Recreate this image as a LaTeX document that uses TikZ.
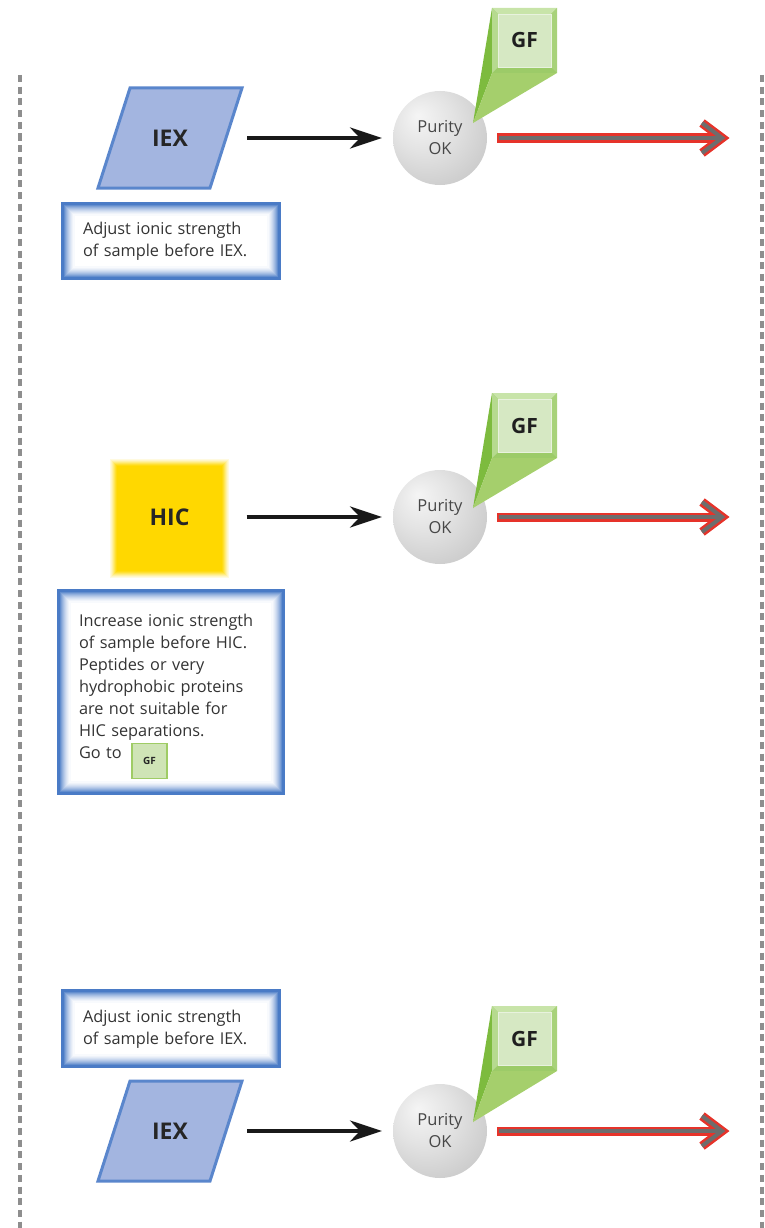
\documentclass[tikz,border=0pt]{standalone}
\usepackage{fontspec}
\setmainfont{Open Sans}
\usetikzlibrary{calc,arrows.meta}

\definecolor{boxblue}{HTML}{4A7BC6}
\definecolor{iexfill}{HTML}{A3B5E0}
\definecolor{iexline}{HTML}{5A86CC}
\definecolor{hicyellow}{HTML}{FFD800}
\definecolor{gfdark}{HTML}{7DBB3E}
\definecolor{gflight}{HTML}{A5CF6C}
\definecolor{gfinner}{HTML}{D6E8C3}
\definecolor{gftop}{HTML}{C8E4A9}
\definecolor{gfleft}{HTML}{B6DA8F}
\definecolor{gfright}{HTML}{A8D27A}
\definecolor{gfbot}{HTML}{9CCB68}
\definecolor{outred}{HTML}{E6332A}
\definecolor{outgray}{HTML}{6D6D6D}
\definecolor{dashgray}{HTML}{8E8E8E}
\definecolor{notetext}{HTML}{333333}

\pgfdeclareradialshading{purityball}{\pgfpoint{-12bp}{12bp}}{%
  color(0bp)=(white!92!gray); color(16bp)=(gray!22); color(38bp)=(gray!45); color(62bp)=(gray!78)}

\newcommand{\glowframe}[2]{%
  \foreach \i/\c in {0/100,1/100,2/100,3/86,4/72,5/60,6/49,7/39,8/30,9/22,10/15,11/9,12/4}
    \draw[boxblue!\c, line width=1.1pt] ($#1+(\i,\i)$) rectangle ($#2-(\i,\i)$);
}

\newcommand{\iexshape}[1]{%
  \draw[fill=iexfill, draw=iexline, line width=3pt, line join=miter]
    ($(#1)+(-72,50)$) -- ($(#1)+(-40,-50)$) -- ($(#1)+(72,-50)$) -- ($(#1)+(40,50)$) -- cycle;
}

\newcommand{\gfcallout}[3]{%
  \fill[gfdark] (473,#1) -- (492,#2-32.5) -- (492,#2+32.5) -- cycle;
  \fill[gflight] (473,#1) -- (492,#2+32.5) -- (557,#2+32.5) -- cycle;
  \fill[gfbot] (492,#2-32.5) rectangle (557,#2+32.5);
  \fill[gftop] (492,#2-32.5) -- (557,#2-32.5) -- (551,#2-26.5) -- (498,#2-26.5) -- cycle;
  \fill[gfleft] (492,#2-32.5) -- (498,#2-26.5) -- (498,#2+26.5) -- (492,#2+32.5) -- cycle;
  \fill[gfright] (557,#2-32.5) -- (557,#2+32.5) -- (551,#2+26.5) -- (551,#2-26.5) -- cycle;
  \node[gfbox] (#3) at (524.5,#2) {GF};
}

\tikzset{
  ball/.style={circle, minimum size=94pt, inner sep=0pt, shading=purityball,
    align=center, text=black!72, font=\fontsize{16.5}{22}\selectfont},
  gfbox/.style={rectangle, minimum size=53pt, inner sep=0pt, fill=gfinner,
    draw=white!45!gfinner, line width=0.6pt, text=black!88, font=\fontsize{21}{24}\bfseries},
  method/.style={inner sep=0pt, text=black!85, font=\fontsize{23}{26}\bfseries},
  note/.style={inner sep=0pt, align=left, text=notetext, font=\fontsize{16.3}{22}\selectfont},
  flow/.style={black!90, line width=4pt, -{Stealth[length=32pt,width=21pt,inset=10pt]}},
  outline/.style={outred, line width=9pt, line cap=butt, line join=miter},
  outcore/.style={outgray, line width=4pt, line cap=butt, line join=miter},
  sidedash/.style={dashgray, line width=4pt, dash pattern=on 7pt off 4.7pt}
}

\begin{document}
\begin{tikzpicture}[x=1pt,y=-1pt]
\useasboundingbox (0,0) rectangle (764,1228);

\draw[sidedash] (20,75) -- (20,1228);
\draw[sidedash] (762,75) -- (762,1228);

% IEX, top
\coordinate (c1) at (170,138);
\iexshape{c1}
\node[method] (iex1) at (c1) {IEX};
\glowframe{(62,203)}{(280,279)}
\node[note, text width=180pt] (note1) at (173,241) {Adjust ionic strength\\of sample before IEX.};

\node[ball] (pur1) at (440,138) {Purity\\OK};
\gfcallout{123}{40.5}{gf1}
\draw[flow, shorten <=77pt, shorten >=58pt] (iex1.center) -- (pur1.center);
\coordinate (out1) at (722,138);
\draw[outline, shorten <=57pt, shorten >=2pt] (pur1.center) -- (out1);
\draw[outline] ($(out1)+(-20,-15)$) -- (out1) -- ($(out1)+(-20,15)$);
\draw[outcore, shorten <=59pt, shorten >=2pt] (pur1.center) -- (out1);
\draw[outcore] ($(out1)+(-20,-15)$) -- (out1) -- ($(out1)+(-20,15)$);

% HIC
\foreach \i/\c in {0/12,1/22,2/35,3/50,4/65,5/80,6/92,7/100}
  \fill[hicyellow!\c] (110+\i,459+\i) rectangle (229-\i,578-\i);
\node[method] (hic) at (169.5,517) {HIC};
\glowframe{(58,590)}{(284,794)}
\node[note, text width=192pt] (note2) at (175,686) {Increase ionic strength\\of sample before HIC.\\Peptides or very\\hydrophobic proteins\\are not suitable for\\HIC separations.\\Go to};
\node[rectangle, minimum width=35pt, minimum height=35pt, inner sep=0pt, fill=gfinner!85!gflight,
  draw=gflight!85!gfdark, line width=1.6pt, text=black!85, font=\fontsize{10}{11}\bfseries] (gfsmall) at (149.5,761) {GF};

\node[ball] (pur2) at (440,517) {Purity\\OK};
\gfcallout{508}{425.5}{gf2}
\draw[flow, shorten <=77pt, shorten >=58pt] (hic.center) -- (pur2.center);
\coordinate (out2) at (722,517);
\draw[outline, shorten <=57pt, shorten >=2pt] (pur2.center) -- (out2);
\draw[outline] ($(out2)+(-20,-15)$) -- (out2) -- ($(out2)+(-20,15)$);
\draw[outcore, shorten <=59pt, shorten >=2pt] (pur2.center) -- (out2);
\draw[outcore] ($(out2)+(-20,-15)$) -- (out2) -- ($(out2)+(-20,15)$);

% IEX, bottom
\glowframe{(62,990)}{(280,1067)}
\node[note, text width=180pt] (note3) at (173,1029) {Adjust ionic strength\\of sample before IEX.};
\coordinate (c3) at (170,1131);
\iexshape{c3}
\node[method] (iex3) at (c3) {IEX};

\node[ball] (pur3) at (440,1131) {Purity\\OK};
\gfcallout{1122}{1038.5}{gf3}
\draw[flow, shorten <=77pt, shorten >=58pt] (iex3.center) -- (pur3.center);
\coordinate (out3) at (722,1131);
\draw[outline, shorten <=57pt, shorten >=2pt] (pur3.center) -- (out3);
\draw[outline] ($(out3)+(-20,-15)$) -- (out3) -- ($(out3)+(-20,15)$);
\draw[outcore, shorten <=59pt, shorten >=2pt] (pur3.center) -- (out3);
\draw[outcore] ($(out3)+(-20,-15)$) -- (out3) -- ($(out3)+(-20,15)$);
\end{tikzpicture}
\end{document}
